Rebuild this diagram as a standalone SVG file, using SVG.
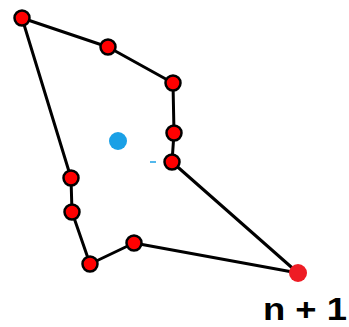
<svg xmlns="http://www.w3.org/2000/svg" width="349" height="327" viewBox="0 0 349 327">
<style>
.edge{stroke:#000;stroke-width:3;fill:none;stroke-linecap:round}
.pt{fill:#f00;stroke:#000;stroke-width:2.5}
</style>
<rect width="349" height="327" fill="#fff"/>
<g id="connectors">
<line class="edge" x1="22" y1="18" x2="108" y2="47"/>
<line class="edge" x1="108" y1="47" x2="173" y2="83"/>
<line class="edge" x1="173" y1="83" x2="174" y2="133"/>
<line class="edge" x1="174" y1="133" x2="172" y2="162"/>
<line class="edge" x1="172" y1="162" x2="298" y2="273"/>
<line class="edge" x1="298" y1="273" x2="134" y2="243"/>
<line class="edge" x1="134" y1="243" x2="90" y2="264"/>
<line class="edge" x1="90" y1="264" x2="72" y2="212"/>
<line class="edge" x1="72" y1="212" x2="71" y2="178"/>
<line class="edge" x1="71" y1="178" x2="22" y2="18"/>
</g>
<g id="p1"><circle class="pt" cx="22" cy="18" r="7.5"/></g>
<g id="p2"><circle class="pt" cx="108" cy="47" r="7.5"/></g>
<g id="p3"><circle class="pt" cx="173" cy="83" r="7.5"/></g>
<g id="p4"><circle class="pt" cx="174" cy="133" r="7.5"/></g>
<g id="p5"><circle class="pt" cx="172" cy="162" r="7.5"/></g>
<g id="p6"><circle class="pt" cx="71" cy="178" r="7.5"/></g>
<g id="p7"><circle class="pt" cx="72" cy="212" r="7.5"/></g>
<g id="p8"><circle class="pt" cx="90" cy="264" r="7.5"/></g>
<g id="p9"><circle class="pt" cx="134" cy="243" r="7.5"/></g>
<g id="centroid"><circle cx="118" cy="141" r="9" fill="#1aa0e6"/><line x1="150" y1="162" x2="156" y2="162" stroke="#1aa0e6" stroke-width="1.5"/></g>
<g id="pn"><circle cx="298" cy="273" r="9" fill="#ee1c24"/>
<text x="263" y="320" font-family="'Liberation Sans',Arial,sans-serif" font-weight="bold" font-size="31" textLength="84" lengthAdjust="spacingAndGlyphs" fill="#000">n + 1</text></g>
</svg>
